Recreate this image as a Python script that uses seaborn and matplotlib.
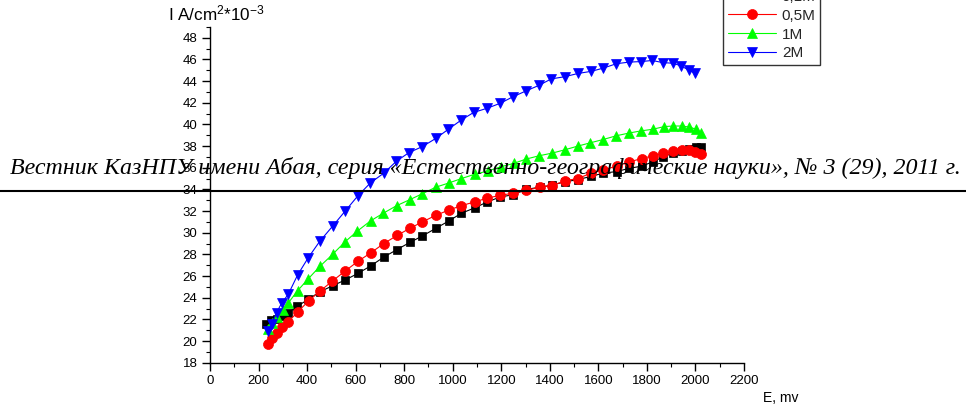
import matplotlib
matplotlib.use("Agg")
import matplotlib.pyplot as plt
import seaborn as sns
import numpy as np
import pandas as pd
from matplotlib.ticker import MultipleLocator

# ---- data ----
x_0 = [230, 250, 274, 299, 322, 359, 405, 453, 505, 558, 610, 663, 716, 771, 823, 875, 930, 985,
       1036, 1091, 1143, 1196, 1248, 1303, 1358, 1410, 1462, 1516, 1569, 1621, 1676, 1728, 1780,
       1824, 1868, 1909, 1945, 1975, 2003, 2023]
y_0 = [21.6, 21.9, 22.0, 22.3, 22.6, 23.2, 23.85, 24.55, 25.1, 25.65, 26.25, 26.95, 27.75, 28.45,
       29.1, 29.7, 30.4, 31.1, 31.8, 32.3, 32.85, 33.3, 33.5, 34.0, 34.2, 34.4, 34.7, 34.9, 35.2,
       35.5, 35.65, 35.95, 36.15, 36.55, 37.0, 37.4, 37.55, 37.7, 37.9, 37.9]

x_05 = [237, 254, 274, 296, 321, 362, 406, 453, 502, 556, 609, 663, 716, 771, 823, 875, 930, 985,
        1036, 1091, 1143, 1196, 1248, 1303, 1358, 1410, 1462, 1516, 1569, 1621, 1676, 1728, 1780,
        1824, 1868, 1909, 1945, 1975, 2000, 2023]
y_05 = [19.75, 20.25, 20.7, 21.25, 21.75, 22.7, 23.7, 24.6, 25.5, 26.45, 27.35, 28.15, 29.0, 29.75,
        30.4, 31.0, 31.6, 32.1, 32.5, 32.85, 33.2, 33.45, 33.65, 33.9, 34.2, 34.35, 34.8, 35.0,
        35.5, 35.8, 36.15, 36.55, 36.85, 37.1, 37.35, 37.5, 37.65, 37.6, 37.45, 37.3]

x_1 = [240, 256, 275, 300, 322, 361, 405, 453, 505, 556, 607, 662, 714, 769, 823, 875, 930, 985,
       1036, 1091, 1145, 1200, 1251, 1303, 1355, 1410, 1461, 1516, 1567, 1619, 1674, 1726, 1776,
       1824, 1872, 1909, 1945, 1975, 2003, 2023]
y_1 = [21.1, 21.7, 22.2, 22.9, 23.5, 24.65, 25.75, 26.9, 28.0, 29.15, 30.15, 31.1, 31.8, 32.5, 33.05,
       33.6, 34.2, 34.6, 35.0, 35.4, 35.7, 36.1, 36.4, 36.8, 37.1, 37.35, 37.65, 38.0, 38.3, 38.6,
       38.95, 39.2, 39.4, 39.55, 39.8, 39.85, 39.85, 39.75, 39.55, 39.25]

x_2 = [240, 254, 274, 295, 322, 361, 405, 452, 505, 557, 609, 661, 716, 768, 820, 875, 930, 982,
       1035, 1086, 1143, 1196, 1248, 1303, 1355, 1406, 1461, 1516, 1571, 1621, 1674, 1726, 1776,
       1822, 1866, 1907, 1941, 1973, 2000]
y_2 = [20.9, 21.6, 22.6, 23.5, 24.3, 26.1, 27.7, 29.2, 30.6, 32.0, 33.4, 34.6, 35.5, 36.6, 37.4,
       37.95, 38.7, 39.55, 40.4, 41.1, 41.5, 41.95, 42.55, 43.1, 43.6, 44.2, 44.4, 44.7, 44.9,
       45.2, 45.6, 45.75, 45.8, 45.9, 45.7, 45.65, 45.4, 45.0, 44.7]

labels = ["0,1M", "0,5M", "1M", "2M"]
x_ticks = [0, 200, 400, 600, 800, 1000, 1200, 1400, 1600, 1800, 2000, 2200]
y_ticks = [18, 20, 22, 24, 26, 28, 30, 32, 34, 36, 38, 40, 42, 44, 46, 48]
overlay = "Вестник КазНПУ имени Абая, серия «Естественно-географические науки», № 3 (29), 2011 г."

sns.set_theme(style="ticks")
plt.rcParams["font.family"] = ["Liberation Sans", "DejaVu Sans"]
plt.rcParams["mathtext.fontset"] = "custom"
plt.rcParams["mathtext.rm"] = "Liberation Sans"
plt.rcParams["mathtext.it"] = "Liberation Sans"

fig = plt.figure(figsize=(9.66, 4.05), dpi=100)
ax = fig.add_axes([210 / 966, 1 - 362.7 / 405, (744 - 210) / 966, (362.7 - 26.9) / 405])

series = [
    (x_0, y_0, labels[0], "black", "s", 6.0),
    (x_05, y_05, labels[1], "red", "o", 7.2),
    (x_1, y_1, labels[2], "#00ff00", "^", 7.8),
    (x_2, y_2, labels[3], "blue", "v", 7.8),
]
for xs, ys, lab, col, mk, ms in series:
    df = pd.DataFrame({"E": xs, "I": ys})
    sns.lineplot(data=df, x="E", y="I", ax=ax, color=col, marker=mk, markersize=ms,
                 markeredgecolor=col, markeredgewidth=0.5, linewidth=0.8, label=lab,
                 sort=False, estimator=None)

ax.set_xlim(0, 2200)
ax.set_ylim(18, 49)
ax.set_xticks(x_ticks)
ax.set_yticks(y_ticks)
ax.xaxis.set_minor_locator(MultipleLocator(100))
ax.yaxis.set_minor_locator(MultipleLocator(1))
ax.tick_params(axis="both", which="major", direction="out", length=6, width=1.0,
               labelsize=9.5, colors="black", pad=3)
ax.tick_params(axis="both", which="minor", direction="out", length=3, width=0.8, colors="black")
ax.set_xlabel("")
ax.set_ylabel("")
sns.despine(ax=ax)
for sp in ("left", "bottom"):
    ax.spines[sp].set_color("black")
    ax.spines[sp].set_linewidth(1.0)

handles, labs = ax.get_legend_handles_labels()
ax.get_legend().remove()
leg = fig.legend(handles, labs, loc="lower left", bbox_to_anchor=(723 / 966, 1 - 65 / 405),
                 bbox_transform=fig.transFigure, frameon=True, fancybox=False,
                 fontsize=11, handlelength=3.2, handletextpad=0.35, labelspacing=0.32,
                 borderpad=0.3, borderaxespad=0.0, numpoints=1)
leg.get_frame().set_edgecolor("black")
leg.get_frame().set_linewidth(1.0)

fig.text(168 / 966, 1 - 20 / 405, r"I A/cm$^{2}$*10$^{-3}$", fontsize=12.3, ha="left",
         va="baseline", color="black")
fig.text(763 / 966, 1 - 402 / 405, "E, mv", fontsize=10, ha="left", va="baseline", color="black")

fig.text(485 / 966, 1 - 174 / 405, overlay, fontsize=17.3, ha="center", va="baseline",
         family=["Liberation Serif", "DejaVu Serif"], style="italic", color="black")
fig.add_artist(plt.Line2D([0, 1], [1 - 191.5 / 405] * 2, transform=fig.transFigure,
                          color="black", linewidth=1.5))

fig.savefig("out.png", dpi=100)
